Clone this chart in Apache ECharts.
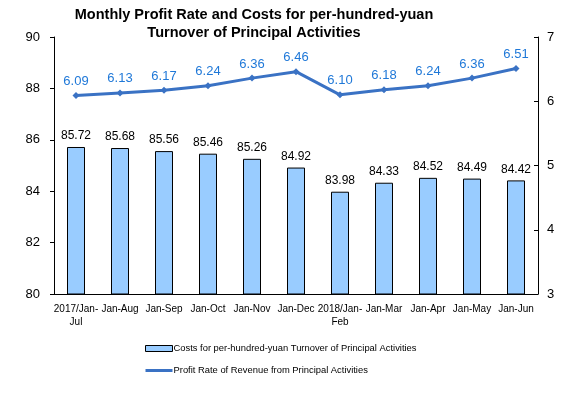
<!DOCTYPE html>
<html><head><meta charset="utf-8">
<script src="https://cdn.jsdelivr.net/npm/echarts@6/dist/echarts.min.js"></script>
<style>html,body{margin:0;padding:0;background:#fff}#c{width:575px;height:396px}</style>
</head><body><div id="c"></div>
<script>
const categories = ['2017/Jan-\nJul','Jan-Aug','Jan-Sep','Jan-Oct','Jan-Nov','Jan-Dec','2018/Jan-\nFeb','Jan-Mar','Jan-Apr','Jan-May','Jan-Jun'];
const costs = [85.72,85.68,85.56,85.46,85.26,84.92,83.98,84.33,84.52,84.49,84.42];
const profitRate = [6.09,6.13,6.17,6.24,6.36,6.46,6.10,6.18,6.24,6.36,6.51];
const leftTicks = [80,82,84,86,88,90];
const rightTicks = [3,4,5,6,7];
const F = 'Liberation Sans, Arial, sans-serif';
const chart = echarts.init(document.getElementById('c'));
chart.setOption({
  animation:false,
  title:{text:'Monthly Profit Rate and Costs for per-hundred-yuan\nTurnover of Principal Activities',left:249,textAlign:'center',top:1,
    textStyle:{fontFamily:F,fontSize:14.5,fontWeight:'bold',color:'#000',lineHeight:18}},
  legend:{orient:'vertical',left:140,top:339,itemGap:13,itemWidth:27,itemHeight:6,
    textStyle:{fontFamily:F,fontSize:9.4,color:'#000',padding:[0,0,0,-4]},
    data:[{name:'Costs for per-hundred-yuan Turnover of Principal Activities',icon:'rect',itemStyle:{borderWidth:1,borderColor:'#000'}},
          {name:'Profit Rate of Revenue from Principal Activities',icon:'path://M0 0H27V3H0Z',itemStyle:{color:'#3a72c4'}}]},
  grid:{left:54,right:37,top:37,bottom:102},
  xAxis:{type:'category',data:categories,axisLine:{lineStyle:{color:'#000'}},axisTick:{show:false},
    axisLabel:{fontFamily:F,fontSize:10,color:'#000',interval:0,lineHeight:13,margin:9}},
  yAxis:[
    {type:'value',min:leftTicks[0],max:leftTicks[leftTicks.length-1],interval:2,splitLine:{show:false},
     axisLine:{show:true,lineStyle:{color:'#000'}},axisTick:{show:true,length:4,lineStyle:{color:'#000'}},
     axisLabel:{fontFamily:F,fontSize:13,color:'#000',margin:14}},
    {type:'value',min:rightTicks[0],max:rightTicks[rightTicks.length-1],interval:1,splitLine:{show:false},
     axisLine:{show:true,lineStyle:{color:'#000'}},axisTick:{show:true,inside:true,length:4,lineStyle:{color:'#000'}},
     axisLabel:{fontFamily:F,fontSize:13,color:'#000',margin:9}}
  ],
  series:[
    {name:'Costs for per-hundred-yuan Turnover of Principal Activities',type:'bar',data:costs,barWidth:18,
     itemStyle:{color:'#99ccff',borderColor:'#000',borderWidth:1},
     label:{show:true,position:'top',distance:5,fontFamily:F,fontSize:12,color:'#000'}},
    {name:'Profit Rate of Revenue from Principal Activities',type:'line',yAxisIndex:1,data:profitRate,
     symbol:'diamond',symbolSize:7,lineStyle:{color:'#3a72c4',width:3},itemStyle:{color:'#3a72c4'},
     label:{show:true,position:'top',distance:4,fontFamily:F,fontSize:13,color:'#1f78d8',formatter:p=>p.value.toFixed(2)}}
  ]
});
</script></body></html>
